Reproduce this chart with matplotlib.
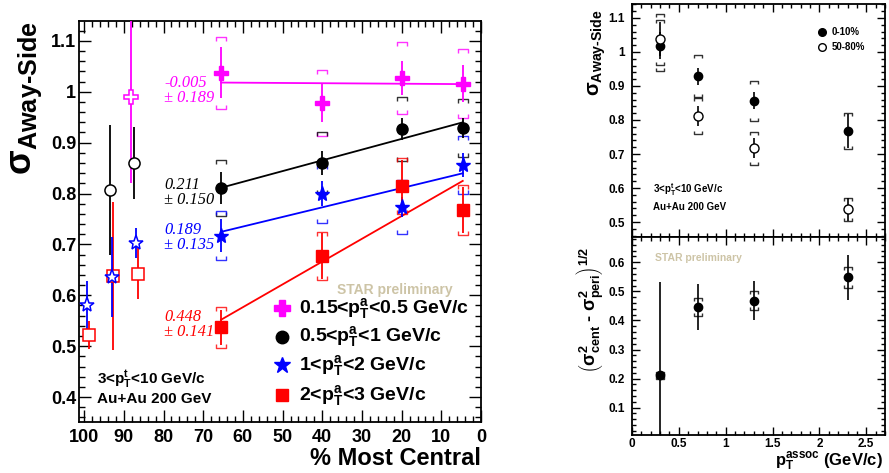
import numpy as np
import matplotlib
matplotlib.use("Agg")
import matplotlib.pyplot as plt
from matplotlib.path import Path
from matplotlib.ticker import MultipleLocator

plt.rcParams['font.family'] = ['Liberation Sans', 'DejaVu Sans']
plt.rcParams['font.weight'] = 'bold'
plt.rcParams['mathtext.fontset'] = 'custom'
plt.rcParams['mathtext.rm'] = 'Liberation Sans:bold'
plt.rcParams['mathtext.it'] = 'Liberation Sans:bold'
plt.rcParams['mathtext.bf'] = 'Liberation Sans:bold'
plt.rcParams['mathtext.default'] = 'rm'

# ---- left panel: sigma vs centrality, 4 associated pT bins ----
cent = [65.5, 40, 20, 4.6]
series_labels = ["0.15<p$_T^a$<0.5 GeV/c", "0.5<p$_T^a$<1 GeV/c",
                 "1<p$_T^a$<2 GeV/c", "2<p$_T^a$<3 GeV/c"]
colors = ["#ff00ff", "#000000", "#0000ff", "#ff0000"]
markers = ["P", "o", "*", "s"]

sig_015 = [1.037, 0.978, 1.027, 1.016]
stat_015 = [0.05, 0.037, 0.033, 0.037]
sys_015 = [0.07, 0.065, 0.07, 0.068]

sig_05 = [0.811, 0.860, 0.927, 0.929]
stat_05 = [0.031, 0.023, 0.021, 0.02]
sys_05 = [0.055, 0.06, 0.063, 0.057]

sig_1 = [0.717, 0.800, 0.774, 0.856]
stat_1 = [0.032, 0.025, 0.02, 0.024]
sys_1 = [0.048, 0.057, 0.053, 0.057]

sig_2 = [0.537, 0.677, 0.815, 0.768]
stat_2 = [0.035, 0.045, 0.05, 0.045]
sys_2 = [0.04, 0.047, 0.055, 0.049]

# linear fits (slope per 100% centrality, value at most central point)
fit_slope = [-0.005, 0.211, 0.189, 0.448]
fit_err = [0.189, 0.150, 0.135, 0.141]
fit_at5 = [1.015, 0.939, 0.839, 0.823]
fit_text_y = [1.003, 0.802, 0.714, 0.542]

# open symbols at the peripheral end
ref_cent_015 = [88.1]
ref_015 = [0.99]
ref_stat_015 = [0.17]
ref_cent_05 = [93.4, 87.4]
ref_05 = [0.807, 0.86]
ref_stat_05 = [0.128, 0.07]
ref_cent_1 = [99.2, 92.9, 86.9]
ref_1 = [0.581, 0.636, 0.703]
ref_stat_1 = [0.047, 0.079, 0.03]
ref_cent_2 = [98.7, 92.7, 86.4]
ref_2 = [0.522, 0.638, 0.642]
ref_stat_2 = [0.028, 0.145, 0.05]

# ---- right panels: vs associated pT ----
pt_assoc = [0.3, 0.7, 1.3, 2.3]
central = [1.018, 0.929, 0.856, 0.768]
central_stat = [0.04, 0.025, 0.025, 0.05]
central_sys = [0.075, 0.062, 0.059, 0.052]
peripheral = [1.038, 0.812, 0.717, 0.538]
peripheral_stat = [0.05, 0.03, 0.03, 0.034]
peripheral_sys = [0.075, 0.054, 0.048, 0.034]
diff = [0.211, 0.447, 0.468, 0.548]
diff_stat = [0.32, 0.08, 0.066, 0.076]
diff_sys = [0.012, 0.031, 0.033, 0.037]

STAR_COLOR = "#cdc4a6"

CAP_TOP = Path([(-1, -0.8), (-1, 0), (1, 0), (1, -0.8)],
               [Path.MOVETO, Path.LINETO, Path.LINETO, Path.LINETO])
CAP_BOT = Path([(-1, 0.8), (-1, 0), (1, 0), (1, 0.8)],
               [Path.MOVETO, Path.LINETO, Path.LINETO, Path.LINETO])


def brackets(ax, x, y, err, color, ms):
    y = np.asarray(y)
    err = np.asarray(err)
    for yy, m in ((y + err, CAP_TOP), (y - err, CAP_BOT)):
        ax.plot(x, yy, ls="none", marker=m, ms=ms, mfc="none", mec=color,
                mew=1.0, alpha=0.8, zorder=2)


def root_ticks(ax, major_len, minor_len, size):
    ax.tick_params(which="both", direction="in", top=True, right=True,
                   width=1.0, labelsize=size)
    ax.tick_params(which="major", length=major_len)
    ax.tick_params(which="minor", length=minor_len)
    for s in ax.spines.values():
        s.set_linewidth(1.3)


fig = plt.figure(figsize=(8.89, 4.73), dpi=100)

# ================= left panel =================
ax = fig.add_axes([79 / 889, 1 - 422 / 473, 402 / 889, 401 / 473])
ax.set_xlim(101.3, 0)
ax.set_ylim(0.351, 1.139)

sigs = [sig_015, sig_05, sig_1, sig_2]
stats = [stat_015, stat_05, stat_1, stat_2]
syss = [sys_015, sys_05, sys_1, sys_2]
refs = [(ref_cent_015, ref_015, ref_stat_015), (ref_cent_05, ref_05, ref_stat_05),
        (ref_cent_1, ref_1, ref_stat_1), (ref_cent_2, ref_2, ref_stat_2)]
msizes = [10, 8, 11, 8]

for i in range(4):
    c = colors[i]
    brackets(ax, cent, sigs[i], syss[i], c, 7.2)
    ax.errorbar(cent, sigs[i], yerr=stats[i], fmt=markers[i], color=c,
                ms=msizes[i], elinewidth=1.3, capsize=0, zorder=4)
    xf = np.array([cent[0], cent[-1]])
    yf = fit_at5[i] - fit_slope[i] * (xf - 5) / 100
    ax.plot(xf, yf, color=c, lw=1.3, zorder=3)
    ax.text(79.8, fit_text_y[i], "%.3f\n\u00b1 %.3f" % (fit_slope[i], fit_err[i]),
            color=c, family="Liberation Serif", style="italic", weight="normal",
            fontsize=11.8, ha="left", va="center", linespacing=0.9)

for i in [3, 2, 1, 0]:
    c = colors[i]
    rx, ry, re = refs[i]
    ax.errorbar(rx, ry, yerr=re, fmt=markers[i], color=c, mfc="white",
                ms=msizes[i], mew=1.1, elinewidth=1.3, capsize=0, zorder=3)

# legend
leg_y = [0.284, 0.212, 0.142, 0.067]
for i in range(4):
    ax.plot([0.505], [leg_y[i]], marker=markers[i], color=colors[i],
            ms=msizes[i] + 1, ls="none", transform=ax.transAxes)
    ax.text(0.548, leg_y[i], series_labels[i], transform=ax.transAxes,
            fontsize=14, ha="left", va="center")

ax.text(0.786, 0.329, "STAR preliminary", color=STAR_COLOR, fontsize=10,
        ha="center", va="center", transform=ax.transAxes)
ax.text(0.045, 0.107, "3<p$_T^t$<10 GeV/c", fontsize=11, ha="left",
        va="center", transform=ax.transAxes)
ax.text(0.045, 0.058, "Au+Au 200 GeV", fontsize=11, ha="left",
        va="center", transform=ax.transAxes)

ax.xaxis.set_major_locator(MultipleLocator(10))
ax.xaxis.set_minor_locator(MultipleLocator(2))
ax.yaxis.set_major_locator(MultipleLocator(0.1))
ax.yaxis.set_minor_locator(MultipleLocator(0.02))
ax.set_yticks([0.4, 0.5, 0.6, 0.7, 0.8, 0.9, 1.0, 1.1],
              ["0.4", "0.5", "0.6", "0.7", "0.8", "0.9", "1", "1.1"])
root_ticks(ax, 8.6, 4.3, 13)
ax.tick_params(axis="y", pad=2)
ax.tick_params(axis="x", pad=5)

ax.text(-0.13, 1.0, r"$\sigma_{\text{Away-Side}}$", rotation=90,
        fontsize=26, ha="center", va="top", transform=ax.transAxes)
ax.text(1.0, -0.09, "% Most Central", fontsize=17, ha="right", va="center",
        transform=ax.transAxes)

# ================= right top panel =================
axt = fig.add_axes([632 / 889, 1 - 237 / 473, 253 / 889, 233 / 473])
axt.set_xlim(0, 2.7)
axt.set_ylim(0.456, 1.141)
brackets(axt, pt_assoc, central, central_sys, "black", 5.5)
brackets(axt, pt_assoc, peripheral, peripheral_sys, "black", 5.5)
axt.errorbar(pt_assoc, central, yerr=central_stat, fmt="o", color="black",
             ms=6, elinewidth=1.2, capsize=0, zorder=4)
axt.errorbar(pt_assoc, peripheral, yerr=peripheral_stat, fmt="o", color="black",
             mfc="white", ms=6.5, mew=1.0, elinewidth=1.2, capsize=0, zorder=4)
axt.plot([0.751], [0.88], "o", color="black", ms=5.5, transform=axt.transAxes)
axt.plot([0.751], [0.815], "o", color="black", mfc="white", ms=5.5,
         transform=axt.transAxes)
axt.text(0.79, 0.88, "0-10%", fontsize=7, va="center", transform=axt.transAxes)
axt.text(0.79, 0.815, "50-80%", fontsize=7, va="center", transform=axt.transAxes)
axt.text(0.083, 0.205, "3<p$_T^t$<10 GeV/c", fontsize=7, va="center",
         transform=axt.transAxes)
axt.text(0.083, 0.127, "Au+Au 200 GeV", fontsize=7, va="center",
         transform=axt.transAxes)
axt.xaxis.set_major_locator(MultipleLocator(0.5))
axt.xaxis.set_minor_locator(MultipleLocator(0.1))
axt.set_yticks([0.5, 0.6, 0.7, 0.8, 0.9, 1.0, 1.1],
               ["0.5", "0.6", "0.7", "0.8", "0.9", "1", "1.1"])
axt.yaxis.set_minor_locator(MultipleLocator(0.02))
root_ticks(axt, 6, 3, 8.5)
axt.tick_params(axis="x", labelbottom=False)
axt.tick_params(axis="y", pad=5)
axt.text(-0.138, 0.976, r"$\sigma_{\text{Away-Side}}$", rotation=90,
         fontsize=14.5, ha="center", va="top", transform=axt.transAxes)

# ================= right bottom panel =================
axb = fig.add_axes([632 / 889, 1 - 435 / 473, 253 / 889, 198 / 473])
axb.set_xlim(0, 2.7)
axb.set_ylim(0.006, 0.687)
brackets(axb, pt_assoc, diff, diff_sys, "black", 5.5)
axb.errorbar(pt_assoc, diff, yerr=diff_stat, fmt="o", color="black",
             ms=6, elinewidth=1.2, capsize=0, zorder=4)
axb.text(0.091, 0.894, "STAR preliminary", color=STAR_COLOR, fontsize=7.5,
         va="center", transform=axb.transAxes)
axb.xaxis.set_major_locator(MultipleLocator(0.5))
axb.xaxis.set_minor_locator(MultipleLocator(0.1))
axb.set_xticks([0, 0.5, 1, 1.5, 2, 2.5], ["0", "0.5", "1", "1.5", "2", "2.5"])
axb.set_yticks([0.1, 0.2, 0.3, 0.4, 0.5, 0.6])
axb.yaxis.set_minor_locator(MultipleLocator(0.02))
root_ticks(axb, 6, 3, 8.5)
axb.tick_params(axis="y", pad=5)
axb.tick_params(axis="x", pad=2)
axb.text(-0.166, 0.95,
         r"$\left(\sigma^{2}_{\text{cent}}\text{ - }\sigma^{2}_{\text{peri}}\right)^{1/2}$",
         rotation=90, fontsize=13, ha="center", va="top", transform=axb.transAxes)
axb.text(0.992, -0.135, r"p$_T^{\text{assoc}}$ (GeV/c)", fontsize=12,
         ha="right", va="center", transform=axb.transAxes)

fig.savefig("out.png", dpi=100)
